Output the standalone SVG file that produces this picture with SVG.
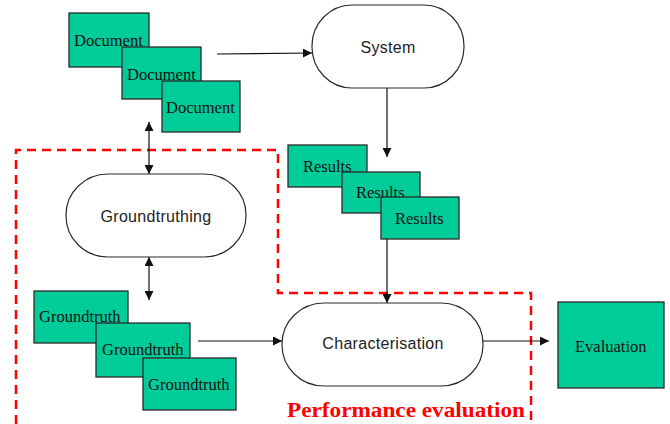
<svg xmlns="http://www.w3.org/2000/svg" width="670" height="424" viewBox="0 0 670 424">
  <style>
    .box { fill: #00CC99; stroke: #2a2a2a; stroke-width: 1.3; }
    .term { fill: #ffffff; stroke: #2a2a2a; stroke-width: 1.2; }
    .lbl { font-family: "Liberation Serif", "Times New Roman", serif; font-size: 16.5px; fill: #111; }
    .proc { font-family: "Liberation Sans", Arial, sans-serif; font-size: 16px; fill: #222; text-anchor: middle; letter-spacing: 0.3px; }
    .edge { stroke: #111; stroke-width: 1.2; fill: none; }
    .zone { stroke: #ff0000; stroke-width: 2.5; fill: none; stroke-dasharray: 9 6; }
    .zone-title { font-family: "Liberation Serif", "Times New Roman", serif; font-size: 20px; font-weight: bold; fill: #ff0000; }
  </style>
  <defs>
    <marker id="arr" viewBox="0 0 10 10" refX="10" refY="5" markerWidth="9" markerHeight="9" markerUnits="userSpaceOnUse" orient="auto-start-reverse">
      <path d="M0,0 L10,5 L0,10 z" fill="#111"/>
    </marker>
  </defs>

  <rect width="670" height="424" fill="#ffffff"/>

  <!-- performance evaluation zone -->
  <g id="zone">
    <polyline class="zone" points="16,424 16,150 278,150 278,293 531,293 531,424"/>
    <text class="zone-title" x="287" y="417" textLength="238" lengthAdjust="spacingAndGlyphs">Performance evaluation</text>
  </g>

  <!-- connectors -->
  <g id="connectors">
    <line class="edge" x1="217" y1="54" x2="312" y2="53" marker-end="url(#arr)"/>
    <line class="edge" x1="387" y1="88" x2="387" y2="157" marker-end="url(#arr)"/>
    <line class="edge" x1="387" y1="239" x2="387" y2="303" marker-end="url(#arr)"/>
    <line class="edge" x1="149" y1="122" x2="149" y2="174" marker-start="url(#arr)" marker-end="url(#arr)"/>
    <line class="edge" x1="149" y1="257" x2="149" y2="300" marker-start="url(#arr)" marker-end="url(#arr)"/>
    <line class="edge" x1="198" y1="341" x2="282" y2="341" marker-end="url(#arr)"/>
    <line class="edge" x1="483" y1="341" x2="549" y2="341" marker-end="url(#arr)"/>
  </g>

  <!-- documents -->
  <g id="documents">
    <rect class="box" x="69" y="13" width="80" height="54"/>
    <text class="lbl" x="74" y="46">Document</text>
    <rect class="box" x="122" y="47" width="79" height="52"/>
    <text class="lbl" x="127" y="80">Document</text>
    <rect class="box" x="162" y="81" width="78" height="51"/>
    <text class="lbl" x="166" y="113">Document</text>
  </g>

  <g id="system">
    <rect class="term" x="312" y="5" width="152" height="83" rx="40" ry="41"/>
    <text class="proc" x="388" y="53">System</text>
  </g>

  <g id="results">
    <rect class="box" x="288" y="145" width="79" height="42"/>
    <text class="lbl" x="303" y="172">Results</text>
    <rect class="box" x="342" y="172" width="78" height="41"/>
    <text class="lbl" x="356" y="198">Results</text>
    <rect class="box" x="381" y="197" width="78" height="42"/>
    <text class="lbl" x="395" y="224">Results</text>
  </g>

  <g id="groundtruthing">
    <rect class="term" x="66" y="174" width="180" height="83" rx="42" ry="41"/>
    <text class="proc" x="156" y="222">Groundtruthing</text>
  </g>

  <g id="groundtruth">
    <rect class="box" x="34" y="291" width="94" height="52"/>
    <text class="lbl" x="39" y="322">Groundtruth</text>
    <rect class="box" x="96" y="323" width="94" height="54"/>
    <text class="lbl" x="102" y="355">Groundtruth</text>
    <rect class="box" x="143" y="358" width="93" height="52"/>
    <text class="lbl" x="148" y="390">Groundtruth</text>
  </g>

  <g id="characterisation">
    <rect class="term" x="282" y="303" width="201" height="83" rx="42" ry="41"/>
    <text class="proc" x="383" y="349">Characterisation</text>
  </g>

  <g id="evaluation">
    <rect class="box" x="558" y="302" width="106" height="86"/>
    <text class="lbl" x="575" y="352">Evaluation</text>
  </g>
</svg>
